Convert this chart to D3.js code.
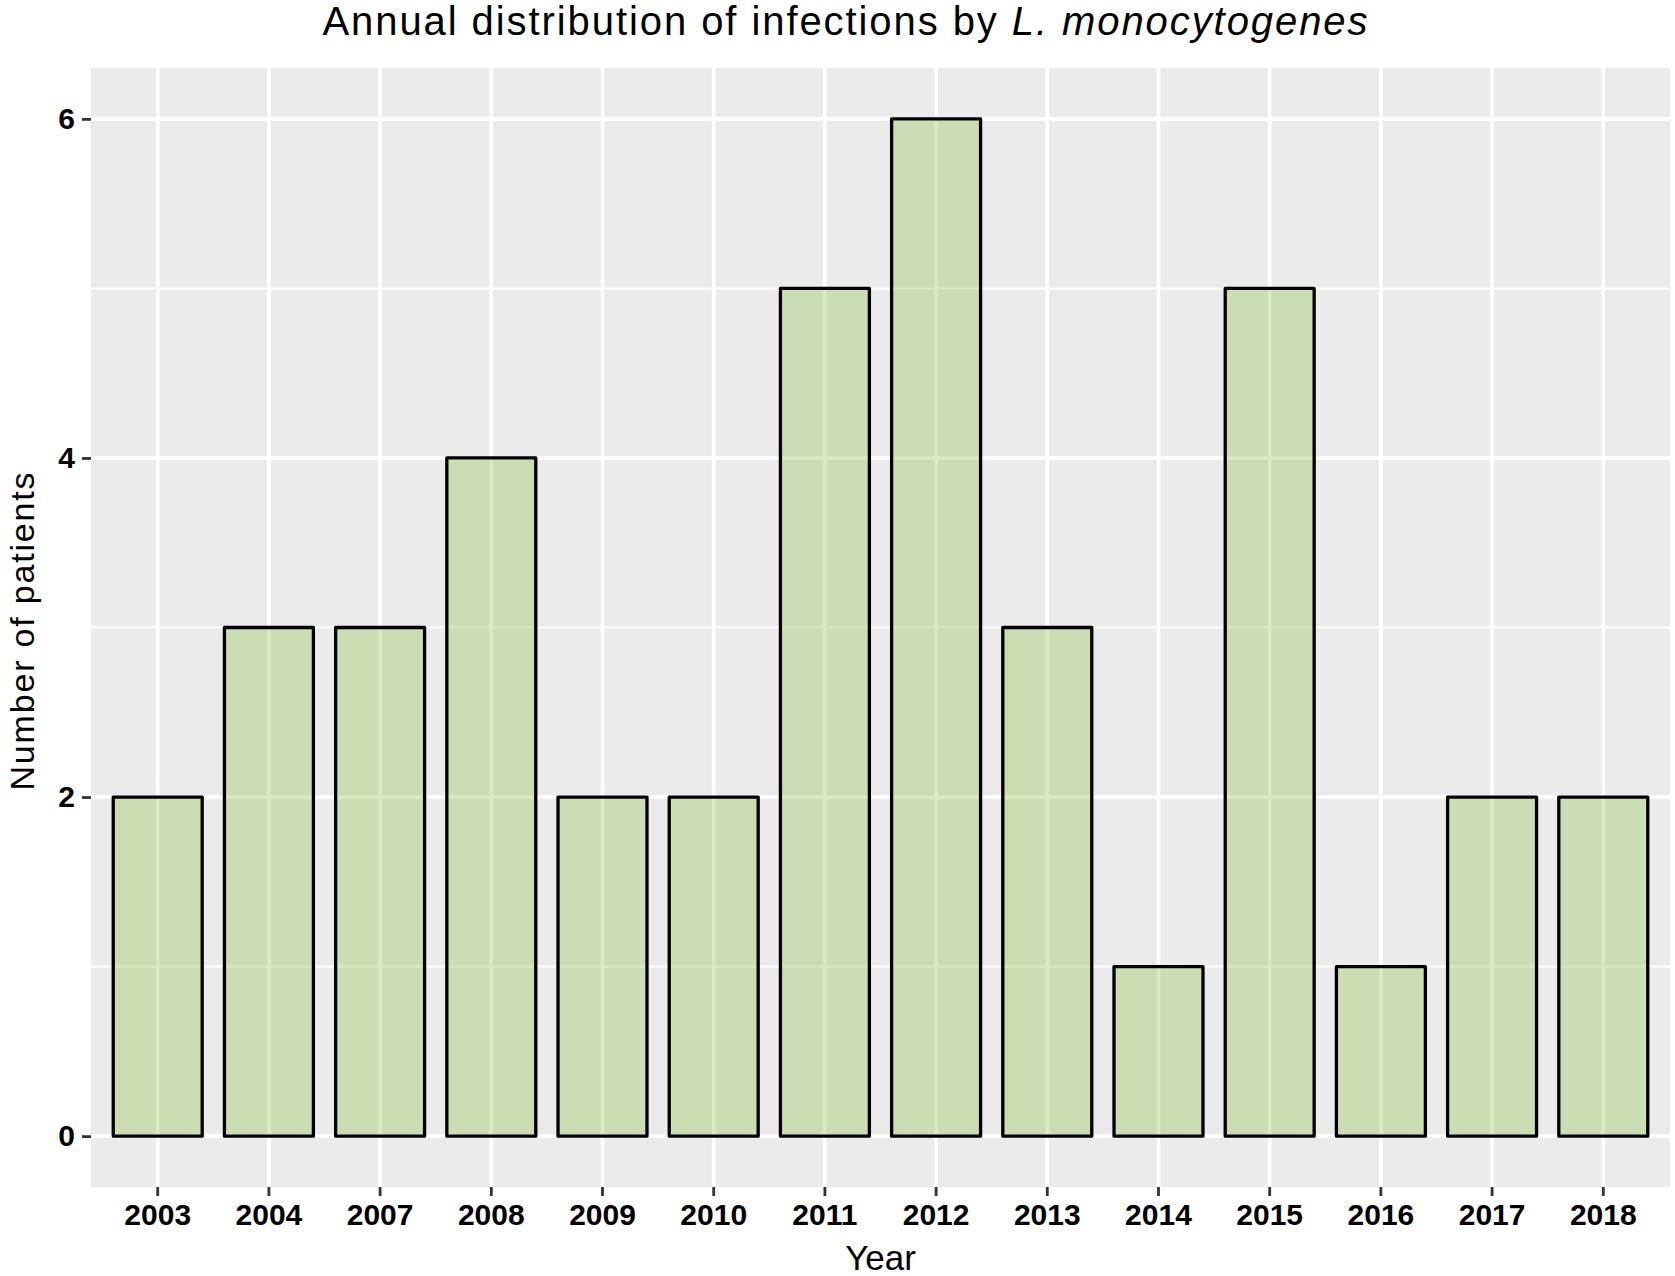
<!DOCTYPE html>
<html>
<head>
<meta charset="utf-8">
<script src="https://cdn.jsdelivr.net/npm/d3@7/dist/d3.min.js"></script>
<style>
  html, body { margin: 0; padding: 0; background: #ffffff; }
  svg { display: block; }
  text { font-family: "Liberation Sans", Arial, Helvetica, sans-serif; fill: #000; }
</style>
</head>
<body>
<svg id="chart" width="1675" height="1276"></svg>
<script>
// ---- data ----
const years = ["2003","2004","2007","2008","2009","2010","2011","2012","2013","2014","2015","2016","2017","2018"];
const patients = [2, 3, 3, 4, 2, 2, 5, 6, 3, 1, 5, 1, 2, 2];
const yTicks = [0, 2, 4, 6];
const yMinor = [1, 3, 5];
const titleMain = "Annual distribution of infections by ";
const titleItalic = "L. monocytogenes";
const xTitle = "Year";
const yTitle = "Number of patients";

// ---- layout ----
const W = 1675, H = 1276;
const panel = { left: 91, right: 1670, top: 68, bottom: 1187 };

const svg = d3.select("#chart");

const x = d3.scaleBand()
  .domain(years)
  .range([panel.left, panel.right])
  .paddingInner(0.2)
  .paddingOuter(0.2);

const y = d3.scaleLinear()
  .domain([-0.3, 6.3])
  .range([panel.bottom, panel.top]);

// panel background
svg.append("rect")
  .attr("x", panel.left).attr("y", panel.top)
  .attr("width", panel.right - panel.left)
  .attr("height", panel.bottom - panel.top)
  .attr("fill", "#ebebeb");

const grid = svg.append("g");
// minor horizontal gridlines
grid.selectAll("line.minor").data(yMinor).join("line")
  .attr("class", "minor")
  .attr("x1", panel.left).attr("x2", panel.right)
  .attr("y1", d => y(d)).attr("y2", d => y(d))
  .attr("stroke", "#ffffff").attr("stroke-width", 2);
// major horizontal gridlines
grid.selectAll("line.majorY").data(yTicks).join("line")
  .attr("class", "majorY")
  .attr("x1", panel.left).attr("x2", panel.right)
  .attr("y1", d => y(d)).attr("y2", d => y(d))
  .attr("stroke", "#ffffff").attr("stroke-width", 3.6);
// major vertical gridlines
grid.selectAll("line.majorX").data(years).join("line")
  .attr("class", "majorX")
  .attr("x1", d => x(d) + x.bandwidth() / 2).attr("x2", d => x(d) + x.bandwidth() / 2)
  .attr("y1", panel.top).attr("y2", panel.bottom)
  .attr("stroke", "#ffffff").attr("stroke-width", 3.6);

// bars
svg.append("g").selectAll("rect").data(years).join("rect")
  .attr("x", d => x(d))
  .attr("width", x.bandwidth())
  .attr("y", (d, i) => y(patients[i]))
  .attr("height", (d, i) => y(0) - y(patients[i]))
  .attr("fill", "#8bc34a")
  .attr("fill-opacity", 0.35)
  .attr("stroke", "#000000")
  .attr("stroke-width", 3.3)
  .attr("stroke-linejoin", "round");

// axes
const xAxis = svg.append("g")
  .attr("transform", `translate(0,${panel.bottom})`)
  .call(d3.axisBottom(x).tickSize(9).tickPadding(8));
const yAxis = svg.append("g")
  .attr("transform", `translate(${panel.left},0)`)
  .call(d3.axisLeft(y).tickValues(yTicks).tickFormat(d3.format("d")).tickSize(9).tickPadding(7));

[xAxis, yAxis].forEach(g => {
  g.select(".domain").remove();
  g.selectAll(".tick line").attr("stroke", "#333333").attr("stroke-width", 2.8);
  g.selectAll(".tick text")
    .style("font-family", "'Liberation Sans', Arial, sans-serif")
    .style("font-size", "30px")
    .style("font-weight", "700")
    .attr("fill", "#000");
});

// title
const t = svg.append("text")
  .attr("x", 845).attr("y", 35)
  .attr("text-anchor", "middle")
  .attr("textLength", 1045)
  .attr("lengthAdjust", "spacing")
  .style("font-size", "40px");
t.append("tspan").text(titleMain);
t.append("tspan").style("font-style", "italic").text(titleItalic);

// x axis title
svg.append("text")
  .attr("x", (panel.left + panel.right) / 2)
  .attr("y", 1270)
  .attr("text-anchor", "middle")
  .style("font-size", "35px")
  .text(xTitle);

// y axis title
svg.append("text")
  .attr("transform", `translate(34,${(panel.top + panel.bottom) / 2 + 4}) rotate(-90)`)
  .attr("text-anchor", "middle")
  .attr("textLength", 318)
  .attr("lengthAdjust", "spacing")
  .style("font-size", "34px")
  .text(yTitle);
</script>
</body>
</html>
